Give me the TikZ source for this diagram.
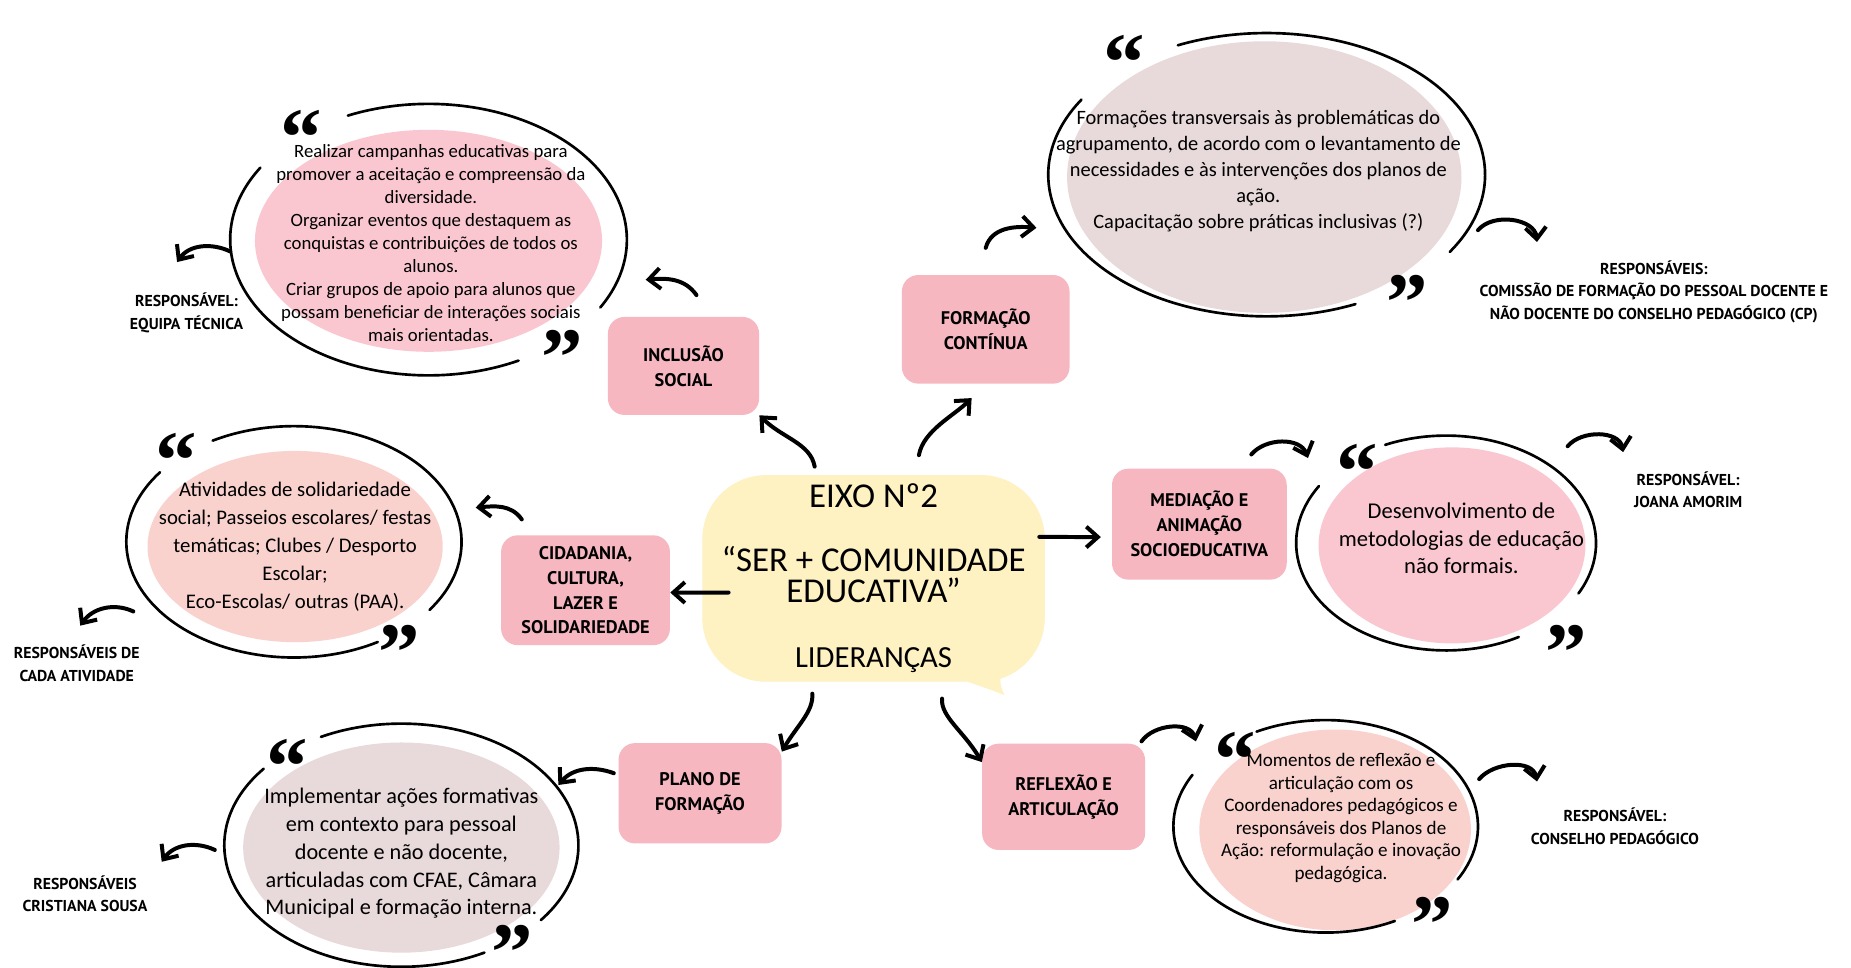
\documentclass[tikz,border=0pt]{standalone}
\usepackage{fontspec}
\setmainfont{Carlito}
\newfontfamily\capsfont{PT Sans}
\newfontfamily\quotefont{Liberation Serif}
\usetikzlibrary{shapes.geometric,arrows.meta,calc}

\definecolor{eixocol}{HTML}{FEF1C2}
\definecolor{boxcol}{HTML}{F6B7C1}
\definecolor{rosa}{HTML}{FAC7D1}
\definecolor{lilas}{HTML}{E8D9DB}
\definecolor{pessego}{HTML}{F9D2CE}

% glyph box cut to the visible quote mark
\newcommand{\aspa}[1]{\raisebox{-0.356em}[0.335em][0pt]{#1}}

\tikzset{
	eixo/.style={fill=eixocol, rounded corners=1.35cm, minimum width=7.25cm, minimum height=4.375cm, align=center},
	box/.style={fill=boxcol, rounded corners=0.35cm, align=center, inner sep=2pt, font={\capsfont\bfseries\fontsize{11}{15}\selectfont}},
	fundo/.style={ellipse, inner sep=0pt},
	texto/.style={align=center, inner sep=0pt},
	resp/.style={align=center, inner sep=2pt, font={\capsfont\bfseries\fontsize{9.5}{13.5}\selectfont}},
	aspas/.style={inner sep=0pt, font={\quotefont\bfseries\fontsize{50}{50}\selectfont}},
	anel/.style={line width=1.6pt, line cap=round},
	seta/.style={line width=2.4pt, line cap=round, -{Straight Barb[length=7pt,width=12.5pt]}},
}

\begin{document}
\begin{tikzpicture}[x=0.025cm, y=0.025cm]
	\useasboundingbox[fill=white] (0,0) rectangle (1568,820);

	% centre
	\fill[eixocol] (800,250) .. controls (825,240) and (840,236) .. (851,231) .. controls (846,240) and (846,250) .. (852,262) -- cycle;
	\node[eixo, font=\fontsize{21}{18.5}\selectfont] (eixo) at (740,330) {EIXO Nº2\\[20pt]“SER + COMUNIDADE\\EDUCATIVA”\\[21pt]{\fontsize{18.5}{18.5}\selectfont LIDERANÇAS}};

	% eixos
	\node[box, minimum width=3.2cm, minimum height=2.075cm] (incl) at (579,510) {INCLUSÃO\\SOCIAL};
	\node[box, minimum width=3.55cm, minimum height=2.3cm] (formc) at (835,541) {FORMAÇÃO\\CONTÍNUA};
	\node[box, minimum width=3.575cm, minimum height=2.325cm] (cidad) at (496,320) {CIDADANIA,\\CULTURA,\\LAZER E\\SOLIDARIEDADE};
	\node[box, minimum width=3.7cm, minimum height=2.35cm] (media) at (1016,376) {MEDIAÇÃO E\\ANIMAÇÃO\\SOCIOEDUCATIVA};
	\node[box, minimum width=3.45cm, minimum height=2.125cm] (plano) at (593,148) {PLANO DE\\FORMAÇÃO};
	\node[box, minimum width=3.45cm, minimum height=2.25cm] (reflex) at (901,145) {REFLEXÃO E\\ARTICULAÇÃO};

	% balões
	\node[fundo, fill=rosa, minimum width=7.35cm, minimum height=4.7cm] (inclE) at (363,616) {};
	\node[fundo, fill=lilas, minimum width=8.35cm, minimum height=5.75cm] (formE) at (1071,670) {};
	\node[fundo, fill=pessego, minimum width=6.25cm, minimum height=4.05cm] (cidE) at (250,357) {};
	\node[fundo, fill=rosa, minimum width=5.65cm, minimum height=4.15cm] (medE) at (1230,358) {};
	\node[fundo, fill=lilas, minimum width=6.7cm, minimum height=4.45cm] (planE) at (340,102) {};
	\node[fundo, fill=pessego, minimum width=5.75cm, minimum height=4.25cm] (refE) at (1131,117) {};

	\draw[anel] (363,617) ++(148:168 and 115) arc[start angle=148, end angle=297, x radius=168, y radius=115];
	\draw[anel] (363,617) ++(-30:168 and 115) arc[start angle=-30, end angle=114, x radius=168, y radius=115];
	\draw[anel] (1073,672) ++(148:185 and 120) arc[start angle=148, end angle=294, x radius=185, y radius=120];
	\draw[anel] (1073,672) ++(-33:185 and 120) arc[start angle=-33, end angle=114, x radius=185, y radius=120];
	\draw[anel] (249,361) ++(143:142 and 98) arc[start angle=143, end angle=300, x radius=142, y radius=98];
	\draw[anel] (249,361) ++(-36:142 and 98) arc[start angle=-36, end angle=119, x radius=142, y radius=98];
	\draw[anel] (1225,360) ++(148:127 and 91) arc[start angle=148, end angle=299, x radius=127, y radius=91];
	\draw[anel] (1225,360) ++(-28:127 and 91) arc[start angle=-28, end angle=114, x radius=127, y radius=91];
	\draw[anel] (340,104) ++(141:150 and 103) arc[start angle=141, end angle=298, x radius=150, y radius=103];
	\draw[anel] (340,104) ++(-38:150 and 103) arc[start angle=-38, end angle=117, x radius=150, y radius=103];
	\draw[anel] (1123,120) ++(151:129 and 90) arc[start angle=151, end angle=297, x radius=129, y radius=90];
	\draw[anel] (1123,120) ++(-30:129 and 90) arc[start angle=-30, end angle=117, x radius=129, y radius=90];

	\node[texto, font=\fontsize{11.3}{13.9}\selectfont] (inclT) at (365,614) {Realizar campanhas educativas para\\promover a aceitação e compreensão da\\diversidade.\\Organizar eventos que destaquem as\\conquistas e contribuições de todos os\\alunos.\\Criar grupos de apoio para alunos que\\possam beneficiar de interações sociais\\mais orientadas.};
	\node[texto, font=\fontsize{12.3}{15.8}\selectfont] (formT) at (1066,675) {Formações transversais às problemáticas do\\agrupamento, de acordo com o levantamento de\\necessidades e às intervenções dos planos de\\ação.\\Capacitação sobre práticas inclusivas (?)};
	\node[texto, font=\fontsize{12.5}{16.8}\selectfont] (cidT) at (250,357) {Atividades de solidariedade\\social; Passeios escolares/ festas\\temáticas; Clubes / Desporto\\Escolar;\\Eco-Escolas/ outras (PAA).};
	\node[texto, font=\fontsize{13.6}{16.7}\selectfont] (medT) at (1238,364) {Desenvolvimento de\\metodologias de educação\\não formais.};
	\node[texto, font=\fontsize{13.4}{16.7}\selectfont] (planT) at (340,97) {Implementar ações formativas\\em contexto para pessoal\\docente e não docente,\\articuladas com CFAE, Câmara\\Municipal e formação interna.};
	\node[texto, font=\fontsize{11.5}{13.6}\selectfont] (refT) at (1136,127) {Momentos de reflexão e\\articulação com os\\Coordenadores pedagógicos e\\responsáveis dos Planos de\\Ação: reformulação e inovação\\pedagógica.};

	\node[aspas] (inclA) at (255,717) {\aspa{“}};
	\node[aspas] (inclF) at (476,530) {\aspa{”}};
	\node[aspas] (formA) at (952,780) {\aspa{“}};
	\node[aspas] (formF) at (1192,577) {\aspa{”}};
	\node[aspas] (cidA) at (149,443) {\aspa{“}};
	\node[aspas] (cidF) at (338,280) {\aspa{”}};
	\node[aspas] (medA) at (1150,434) {\aspa{“}};
	\node[aspas] (medF) at (1327,280) {\aspa{”}};
	\node[aspas] (planA) at (243,184) {\aspa{“}};
	\node[aspas] (planF) at (434,26) {\aspa{”}};
	\node[aspas] (refA) at (1046,190) {\aspa{“}};
	\node[aspas] (refF) at (1213,50) {\aspa{”}};

	% responsáveis
	\node[resp] (resp1) at (158,555) {RESPONSÁVEL:\\EQUIPA TÉCNICA};
	\node[resp] (resp2) at (1401,573) {RESPONSÁVEIS:\\COMISSÃO DE FORMAÇÃO DO PESSOAL DOCENTE E\\NÃO DOCENTE DO CONSELHO PEDAGÓGICO (CP)};
	\node[resp] (resp3) at (65,258) {RESPONSÁVEIS DE\\CADA ATIVIDADE};
	\node[resp] (resp4) at (1430,405) {RESPONSÁVEL:\\JOANA AMORIM};
	\node[resp] (resp5) at (72,63) {RESPONSÁVEIS\\CRISTIANA SOUSA};
	\node[resp] (resp6) at (1368,120) {RESPONSÁVEL:\\CONSELHO PEDAGÓGICO};

	% setas
	\draw[seta, shorten <=5pt] (eixo.119) to[out=100,in=-45] (incl.south east);
	\draw[seta, shorten <=12pt, shorten >=12pt] (eixo.68) to[out=80,in=-135] (formc.south);
	\draw[seta] ([xshift=16pt,yshift=-8.5pt]eixo.west) -- ([yshift=-1.4pt]cidad.east);
	\draw[seta] ([xshift=-3.5pt,yshift=25pt]eixo.east) -- ([xshift=-6.5pt,yshift=-7.8pt]media.west);
	\draw[seta, shorten <=7pt] (eixo.239) to[out=-85,in=60] (plano.27);
	\draw[seta, shorten <=10pt] (eixo.304) to[out=-95,in=120] (reflex.157);

	\draw[seta] ($(incl)+(11,60)$) to[out=125,in=5] ($(inclE)+(184,-33)$);
	\draw[seta] ($(inclE)+(-168,-9)$) to[out=155,in=55] ($(resp1)+(-8,43)$);
	\draw[seta] ($(formc)+(0,69)$) to[out=75,in=175] ($(formE)+(-193,-43)$);
	\draw[seta] ($(formE)+(181,-45)$) to[out=50,in=95] ($(resp2)+(-99,42)$);
	\draw[seta] ($(cidad)+(-54,60)$) to[out=125,in=5] ($(cidE)+(153,33)$);
	\draw[seta] ($(cidE)+(-137,-55)$) to[out=155,in=55] ($(resp3)+(3,32)$);
	\draw[seta] ($(media)+(44,59)$) to[out=50,in=110] ($(medE)+(-122,74)$);
	\draw[seta] ($(medE)+(98,84)$) to[out=50,in=100] ($(resp4)+(-55,32)$);
	\draw[seta] ($(plano)+(-73,17)$) to[out=160,in=50] ($(planE)+(133,53)$);
	\draw[seta] ($(planE)+(-158,-2)$) to[out=155,in=55] ($(resp5)+(65,27)$);
	\draw[seta] ($(reflex)+(66,47)$) to[out=55,in=105] ($(refE)+(-118,75)$);
	\draw[seta] ($(refE)+(122,43)$) to[out=50,in=100] ($(resp6)+(-66,38)$);
\end{tikzpicture}
\end{document}
